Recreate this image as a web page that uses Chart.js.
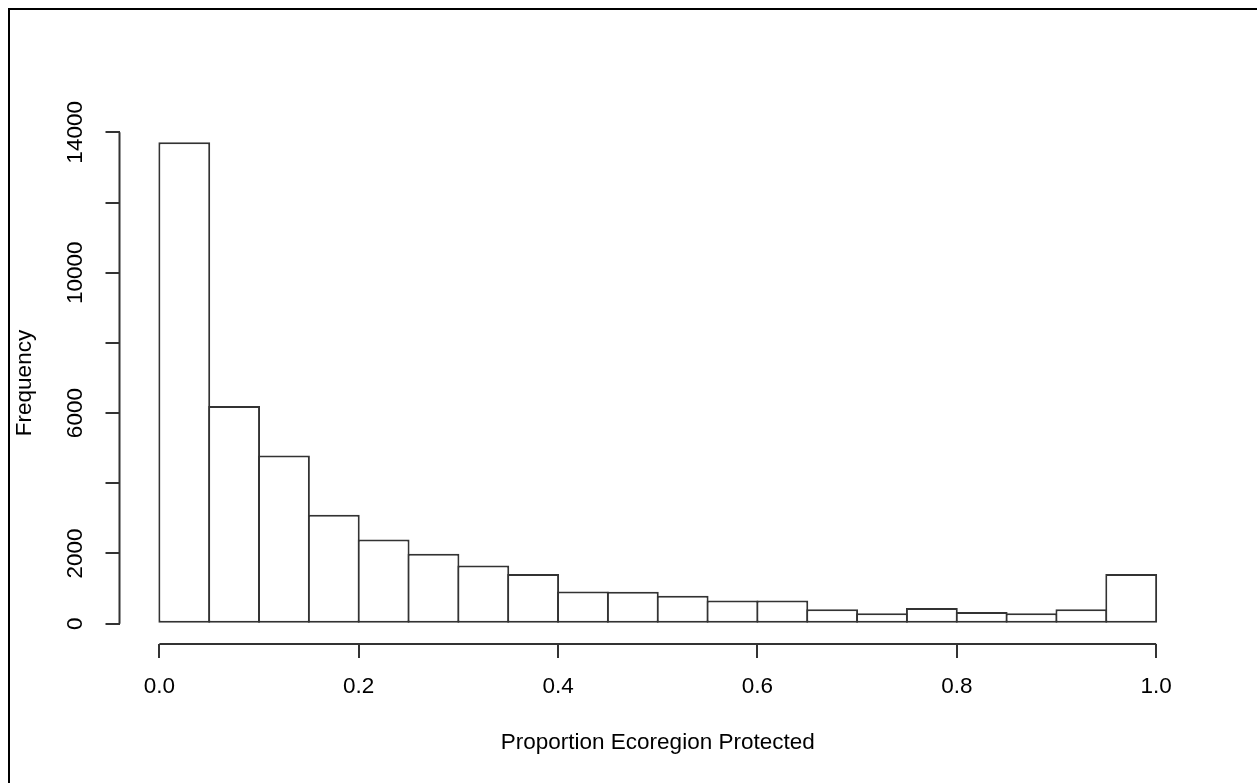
<!DOCTYPE html>
<html>
<head>
<meta charset="utf-8">
<script src="https://cdn.jsdelivr.net/npm/chart.js@4"></script>
<style>
  body { margin: 0; background: #fff; }
  #wrap { position: relative; width: 1257px; height: 783px; }
  #frame { position: absolute; left: 8px; top: 8px; right: 0; bottom: 0;
           border-top: 2px solid #000; border-left: 2px solid #000; pointer-events: none; }
</style>
</head>
<body>
<div id="wrap">
  <canvas id="chart1"></canvas>
  <div id="frame"></div>
</div>
<script>
// histogram breaks and counts
var breaks = [0, 0.05, 0.1, 0.15, 0.2, 0.25, 0.3, 0.35, 0.4, 0.45, 0.5,
              0.55, 0.6, 0.65, 0.7, 0.75, 0.8, 0.85, 0.9, 0.95, 1.0];
var counts = [13715, 6200, 4795, 3105, 2400, 1995, 1660, 1415, 915, 910,
              795, 660, 658, 410, 296, 450, 334, 296, 411, 1414];
var xTicks = [0, 0.2, 0.4, 0.6, 0.8, 1.0];
var yTicks = [0, 2000, 4000, 6000, 8000, 10000, 12000, 14000];
// R drops the labels that would overlap
var yLabelled = [0, 2000, 6000, 10000, 14000];

var ink = '#333';
var fontSpec = { family: "'Liberation Sans', Arial, sans-serif", size: 22.5 };

function generateHist(containerId) {
    var points = counts.map(function(c, i) {
        return { x: (breaks[i] + breaks[i + 1]) / 2, y: c };
    });

    // R style axes: line only spans first to last tick
    var rAxes = {
        id: 'rAxes',
        afterDraw: function(chart) {
            var ctx = chart.ctx, xs = chart.scales.x, ys = chart.scales.y;
            var a = chart.chartArea;
            ctx.save();
            ctx.strokeStyle = ink;
            ctx.lineWidth = 2;
            ctx.beginPath();
            ctx.moveTo(a.left, ys.getPixelForValue(yTicks[0]));
            ctx.lineTo(a.left, ys.getPixelForValue(yTicks[yTicks.length - 1]));
            ctx.moveTo(xs.getPixelForValue(xTicks[0]), a.bottom);
            ctx.lineTo(xs.getPixelForValue(xTicks[xTicks.length - 1]), a.bottom);
            ctx.stroke();
            ctx.restore();
        }
    };

    new Chart(containerId, {
        type: 'bar',
        data: {
            datasets: [{
                data: points,
                backgroundColor: '#fff',
                borderColor: ink,
                borderWidth: 2,
                borderSkipped: false,
                barPercentage: 1.04,
                categoryPercentage: 1
            }]
        },
        options: {
            responsive: true,
            maintainAspectRatio: false,
            animation: false,
            layout: { padding: { left: 0, top: 122, right: 61, bottom: 0 } },
            plugins: { legend: { display: false }, tooltip: { enabled: false } },
            scales: {
                x: {
                    type: 'linear',
                    offset: false,
                    min: -0.04,
                    max: 1.04,
                    afterBuildTicks: function(s) { s.ticks = xTicks.map(function(v) { return { value: v }; }); },
                    afterFit: function(s) { s.height = 139; },
                    border: { display: false },
                    grid: { offset: false, drawOnChartArea: false, drawTicks: true, tickLength: 14, color: ink, lineWidth: 2 },
                    ticks: {
                        color: '#000', font: fontSpec, padding: 15, maxRotation: 0, autoSkip: false,
                        callback: function(v) { return Number(v).toFixed(1); }
                    },
                    title: {
                        display: true, text: 'Proportion Ecoregion Protected', color: '#000',
                        font: fontSpec, padding: { top: 0, bottom: 27 }
                    }
                },
                y: {
                    min: -579,
                    max: 14295,
                    afterBuildTicks: function(s) { s.ticks = yTicks.map(function(v) { return { value: v }; }); },
                    afterFit: function(s) { s.width = 119.5; },
                    border: { display: false },
                    grid: { drawOnChartArea: false, drawTicks: true, tickLength: 14, color: ink, lineWidth: 2 },
                    ticks: {
                        color: '#000', font: fontSpec, padding: -2, minRotation: 90, maxRotation: 90,
                        crossAlign: 'center', autoSkip: false,
                        callback: function(v) { return yLabelled.indexOf(v) >= 0 ? String(v) : ''; }
                    },
                    title: {
                        display: true, text: 'Frequency', color: '#000',
                        font: fontSpec, padding: { top: 11, bottom: 0 }
                    }
                }
            }
        },
        plugins: [rAxes]
    });
}

document.addEventListener('DOMContentLoaded', function() {
    generateHist('chart1');
});
</script>
</body>
</html>
